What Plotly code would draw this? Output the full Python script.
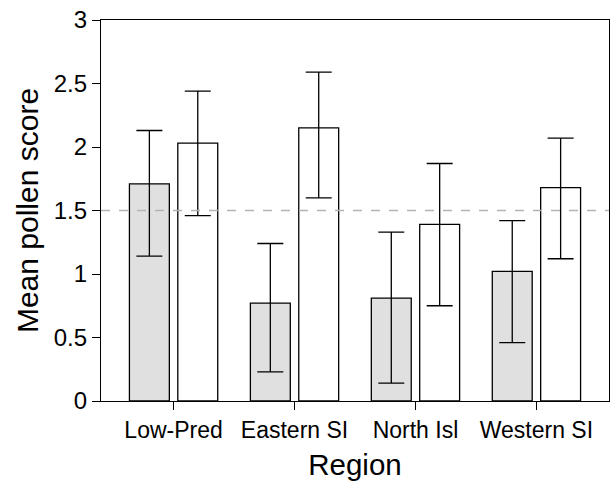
import plotly.graph_objects as go

regions = ["Low-Pred", "Eastern SI", "North Isl", "Western SI"]
gray_mean = [1.71, 0.77, 0.81, 1.02]
gray_upper = [2.13, 1.24, 1.33, 1.42]
gray_lower = [1.14, 0.23, 0.14, 0.46]
white_mean = [2.03, 2.15, 1.39, 1.68]
white_upper = [2.44, 2.59, 1.87, 2.07]
white_lower = [1.46, 1.60, 0.75, 1.12]
ref_line = 1.5

def err(mean, up, lo):
    return dict(type="data", symmetric=False,
                array=[u - m for u, m in zip(up, mean)],
                arrayminus=[m - l for m, l in zip(mean, lo)],
                color="black", thickness=1.3, width=13)

fig = go.Figure()
fig.add_trace(go.Bar(x=regions, y=gray_mean, marker=dict(color="#e0e0e0", line=dict(color="black", width=1.3)),
                     error_y=err(gray_mean, gray_upper, gray_lower), showlegend=False))
fig.add_trace(go.Bar(x=regions, y=white_mean, marker=dict(color="rgba(255,255,255,0)", line=dict(color="black", width=1.3)),
                     error_y=err(white_mean, white_upper, white_lower), showlegend=False))

fig.add_shape(type="line", xref="paper", x0=0, x1=1, yref="y", y0=ref_line, y1=ref_line,
              line=dict(color="#b3b3b3", width=1.6, dash="dash"), layer="above")

fig.update_layout(
    width=613, height=484,
    margin=dict(l=101, r=4, t=20, b=83),
    paper_bgcolor="white", plot_bgcolor="white",
    barmode="group", bargap=0.2, bargroupgap=0.175,
    font=dict(family="Liberation Sans, Arial, sans-serif", color="black"),
    xaxis=dict(range=[-0.6, 3.6], showline=True, linecolor="black", linewidth=1.3, mirror=True,
               ticks="outside", ticklen=8, tickcolor="black", tickwidth=1,
               tickfont=dict(size=23), showgrid=False, zeroline=False,
               title=dict(text="Region", font=dict(size=29.5), standoff=12)),
    yaxis=dict(range=[0, 3], showline=True, linecolor="black", linewidth=1.3, mirror=True,
               ticks="outside", ticklen=8, tickcolor="black", tickwidth=1,
               tickvals=[0, 0.5, 1, 1.5, 2, 2.5, 3], ticktext=["0", "0.5", "1", "1.5", "2", "2.5", "3"],
               tickfont=dict(size=24), showgrid=False, zeroline=False,
               title=dict(text="Mean pollen score", font=dict(size=30), standoff=6)),
)

fig.write_html("out.html")
